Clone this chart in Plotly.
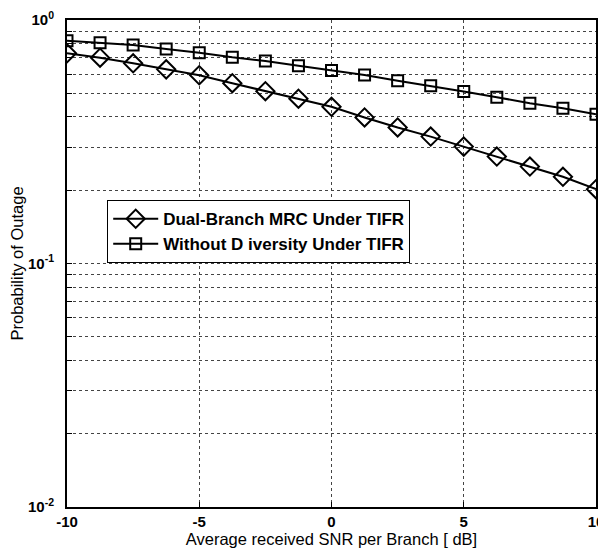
import plotly.graph_objects as go

snr_db = [-10, -8.75, -7.5, -6.25, -5, -3.75, -2.5, -1.25, 0, 1.25, 2.5, 3.75, 5, 6.25, 7.5, 8.75, 10]
mrc_tifr = [0.73, 0.70, 0.664, 0.627, 0.593, 0.55, 0.51, 0.475, 0.44, 0.398, 0.362, 0.332, 0.302, 0.275, 0.25, 0.227, 0.202]
nodiv_tifr = [0.822, 0.807, 0.789, 0.760, 0.734, 0.703, 0.679, 0.649, 0.621, 0.594, 0.563, 0.537, 0.509, 0.482, 0.455, 0.434, 0.41]

names = ["Dual-Branch MRC Under TIFR", "Without D iversity Under TIFR"]
x_ticks = [-10, -5, 0, 5, 10]
x_ticklabels = ["-10", "-5", "0", "5", "10"]
y_decades = [0.01, 0.1, 1]
y_decade_labels = ["10<sup>-2</sup>", "10<sup>-1</sup>", "10<sup>0</sup>"]

y_vals = []
y_text = []
for d, lab in zip(y_decades, y_decade_labels):
    y_vals.append(d)
    y_text.append(lab)
    if d < 1:
        for m in range(2, 10):
            y_vals.append(d * m)
            y_text.append("")

FONT = "Liberation Sans, Arial"

fig = go.Figure()
fig.add_trace(go.Scatter(
    x=snr_db, y=mrc_tifr, mode="lines+markers", name=names[0],
    line=dict(color="black", width=2),
    marker=dict(symbol="diamond-open", size=14, color="black", line=dict(width=2)),
))
fig.add_trace(go.Scatter(
    x=snr_db, y=nodiv_tifr, mode="lines+markers", name=names[1],
    line=dict(color="black", width=2),
    marker=dict(symbol="square-open", size=11, color="black", line=dict(width=2)),
))

fig.update_layout(
    width=598, height=540,
    margin=dict(l=59, r=10, t=12, b=41),
    paper_bgcolor="white", plot_bgcolor="white",
    font=dict(family=FONT, size=13, color="black"),
    showlegend=True,
    legend=dict(
        x=0.076, y=0.63, xanchor="left", yanchor="top",
        bgcolor="white", bordercolor="black", borderwidth=1,
        font=dict(size=17, family=FONT, weight="bold"),
        itemwidth=45, tracegroupgap=0,
    ),
    xaxis=dict(
        range=[-10, 10], tickvals=x_ticks, ticktext=x_ticklabels,
        showline=True, linecolor="black", linewidth=2, mirror=True,
        ticks="inside", ticklen=5, tickcolor="black", automargin=False,
        ticklabeloverflow="allow",
        showgrid=True, gridcolor="#444", griddash="dot", gridwidth=1,
        zeroline=False,
        tickfont=dict(size=15, family=FONT, color="black", weight="bold"),
        title=dict(text="Average received SNR per Branch [ dB]", font=dict(size=16.5), standoff=7),
    ),
    yaxis=dict(
        type="log", range=[-2, 0], tickvals=y_vals, ticktext=y_text,
        showline=True, linecolor="black", linewidth=2, mirror=True,
        ticks="inside", ticklen=5, tickcolor="black", automargin=False,
        showgrid=True, gridcolor="#444", griddash="dot", gridwidth=1,
        zeroline=False, ticklabelstandoff=8,
        tickfont=dict(size=15, family=FONT, color="black", weight="bold"),
        title=dict(text="Probability of Outage", font=dict(size=16.5), standoff=4),
    ),
)
fig.write_html("out.html")
